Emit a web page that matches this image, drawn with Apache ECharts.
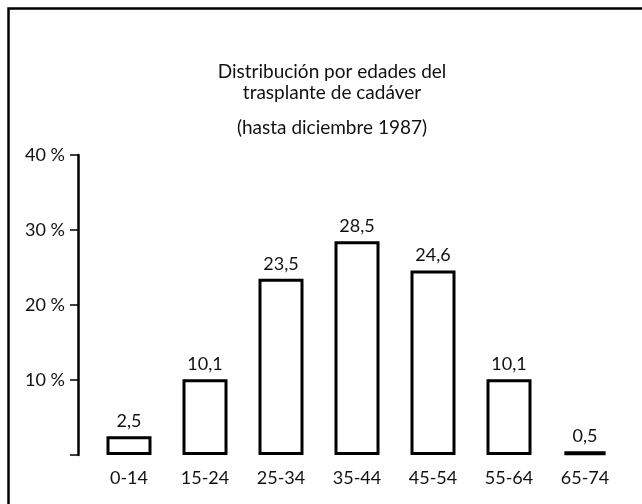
<!DOCTYPE html>
<html lang="es">
<head>
    <meta charset="UTF-8">
    <title>Distribución por edades</title>
    <script src="https://cdn.jsdelivr.net/npm/echarts@6/dist/echarts.min.js"></script>
    <style>
        html, body { margin: 0; padding: 0; background: #fff; }
        #chart { width: 642px; height: 504px; }
    </style>
</head>
<body>
<div id="chart"></div>
<script>
    // datos
    let categories = ['0-14', '15-24', '25-34', '35-44', '45-54', '55-64', '65-74'];
    let values = [2.5, 10.1, 23.5, 28.5, 24.6, 10.1, 0.5];
    let yTicks = [0, 10, 20, 30, 40];
    let titleMain = 'Distribución por edades del\ntrasplante de cadáver';
    let titleSub = '(hasta diciembre 1987)';

    let font = 'Lato, "Open Sans", sans-serif';
    let chart = echarts.init(document.getElementById('chart'));

    let barData = values.map(function (v, i) {
        // la ultima barra (0,5) va rellena en negro
        if (i === values.length - 1) {
            return {value: v, itemStyle: {color: '#000', borderColor: '#000', borderWidth: 4}};
        }
        return v;
    });

    let txt = {fontFamily: font, fontWeight: 'normal', fontSize: 19, color: '#111', lineHeight: 21};

    let option = {
        backgroundColor: '#fff',
        animation: false,
        title: [{
            text: titleMain,
            left: 327,
            top: 56,
            textAlign: 'center',
            textStyle: txt
        }, {
            text: titleSub,
            left: 327,
            top: 112,
            textAlign: 'center',
            textStyle: txt
        }],
        grid: {left: 91, right: 19, top: 155, bottom: 49},
        xAxis: {
            type: 'category',
            data: categories,
            axisLine: {show: false},
            axisTick: {show: false},
            axisLabel: {
                margin: 14,
                fontFamily: font,
                fontSize: 18,
                color: '#111'
            }
        },
        yAxis: {
            type: 'value',
            min: yTicks[0],
            max: yTicks[yTicks.length - 1],
            interval: 10,
            offset: 13,
            splitLine: {show: false},
            axisLine: {show: true, lineStyle: {color: '#000', width: 2.5}},
            axisTick: {show: true, length: 8, lineStyle: {color: '#000', width: 1.5}},
            axisLabel: {
                margin: 13,
                fontFamily: font,
                fontSize: 18,
                color: '#111',
                formatter: function (v) {
                    return v === 0 ? '' : v + ' %';
                }
            }
        },
        series: [{
            type: 'bar',
            data: barData,
            barWidth: 45,
            itemStyle: {color: '#fff', borderColor: '#000', borderWidth: 3},
            label: {
                show: true,
                position: 'top',
                distance: 6,
                fontFamily: font,
                fontSize: 18,
                color: '#111',
                formatter: function (p) {
                    return String(p.value).replace('.', ',');
                }
            }
        }],
        graphic: [{
            type: 'rect',
            shape: {x: 8.5, y: 8.5, width: 700, height: 600},
            style: {fill: 'none', stroke: '#000', lineWidth: 2.5},
            silent: true
        }]
    };

    chart.setOption(option);
</script>
</body>
</html>
